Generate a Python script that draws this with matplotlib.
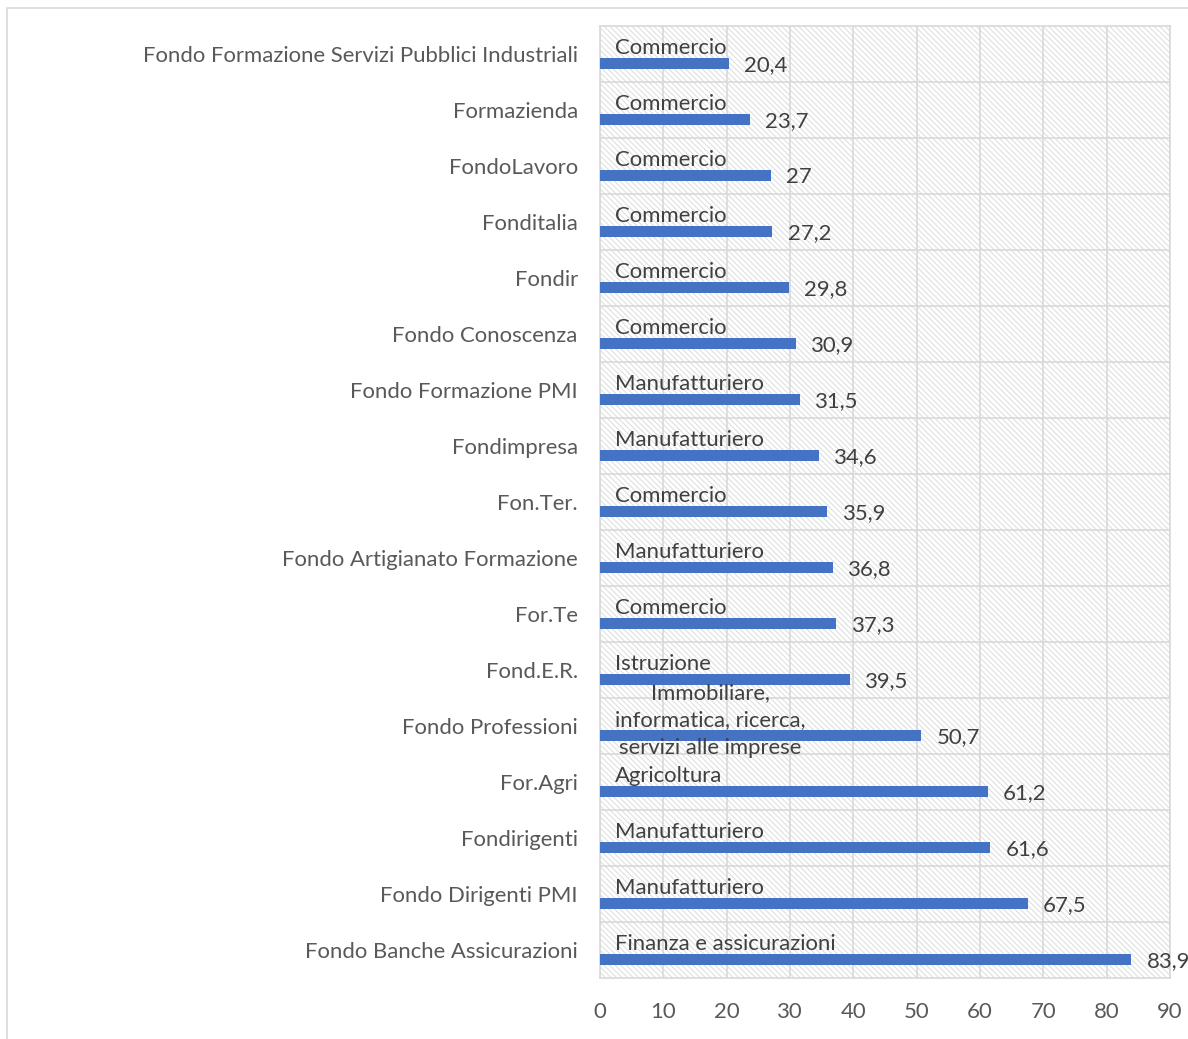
import matplotlib
matplotlib.use("Agg")
import matplotlib.pyplot as plt
from matplotlib.patches import Rectangle

# fondi interprofessionali, settore prevalente e quota (%)
fondi = ['Fondo Formazione Servizi Pubblici Industriali', 'Formazienda', 'FondoLavoro',
         'Fonditalia', 'Fondir', 'Fondo Conoscenza', 'Fondo Formazione PMI', 'Fondimpresa',
         'Fon.Ter.', 'Fondo Artigianato Formazione', 'For.Te', 'Fond.E.R.',
         'Fondo Professioni', 'For.Agri', 'Fondirigenti', 'Fondo Dirigenti PMI',
         'Fondo Banche Assicurazioni']
settori = ['Commercio', 'Commercio', 'Commercio', 'Commercio', 'Commercio', 'Commercio',
           'Manufatturiero', 'Manufatturiero', 'Commercio', 'Manufatturiero', 'Commercio',
           'Istruzione', 'Immobiliare,\ninformatica, ricerca,\nservizi alle imprese',
           'Agricoltura', 'Manufatturiero', 'Manufatturiero', 'Finanza e assicurazioni']
valori = [20.4, 23.7, 27, 27.2, 29.8, 30.9, 31.5, 34.6, 35.9, 36.8, 37.3, 39.5,
          50.7, 61.2, 61.6, 67.5, 83.9]

plt.rcParams['font.family'] = ['Lato', 'DejaVu Sans']
plt.rcParams['hatch.linewidth'] = 0.7

fs = 15.9
fig = plt.figure(figsize=(11.88, 10.39), dpi=100)
# cornice esterna
fig.patches.append(Rectangle((7 / 1188, -0.1), 1.1, 1 - 8 / 1039 + 0.1, transform=fig.transFigure,
                             fill=False, edgecolor='#d9d9d9', linewidth=1.2))
ax = fig.add_axes([600 / 1188, 1 - 978 / 1039, 570 / 1188, 952 / 1039])

ax.add_patch(Rectangle((0, 0), 1, 1, transform=ax.transAxes, facecolor='white',
                       edgecolor='#dcdcdc', hatch='\\\\\\\\\\\\', linewidth=0, zorder=0))

pos = list(range(len(fondi)))
ax.barh([p + 0.17 for p in pos], valori, height=0.2, color='#4472C4', zorder=3)

for p, v, s in zip(pos, valori, settori):
    ax.annotate(str(v).replace('.', ','), (v, p + 0.2), xytext=(11, 0),
                textcoords='offset points', va='center', ha='left',
                fontsize=fs, color='#404040', annotation_clip=False)
    ax.annotate(s, (0, p - 0.1), xytext=(11, 0), textcoords='offset points',
                va='center', ha='left', multialignment='center', linespacing=1.45,
                fontsize=fs, color='#404040', zorder=4)

ax.set_xlim(0, 90)
ax.set_ylim(len(fondi) - 0.5, -0.5)
ax.set_xticks(range(0, 91, 10))
ax.set_yticks(pos)
ax.set_yticklabels(fondi)
ax.set_yticks([p + 0.5 for p in pos[:-1]], minor=True)
ax.tick_params(axis='both', length=0, labelsize=fs, labelcolor='#595959')
ax.tick_params(axis='y', pad=16)
ax.tick_params(axis='x', pad=17)
ax.tick_params(axis='y', which='minor', length=0)
ax.grid(axis='x', color='#d9d9d9', linewidth=1.2, zorder=1)
ax.grid(axis='y', which='minor', color='#d9d9d9', linewidth=1.2, zorder=1)
ax.grid(axis='y', which='major', visible=False)
ax.set_axisbelow(True)
for sp in ax.spines.values():
    sp.set_color('#d9d9d9')
    sp.set_linewidth(1.2)

fig.savefig('out.png', dpi=100)
